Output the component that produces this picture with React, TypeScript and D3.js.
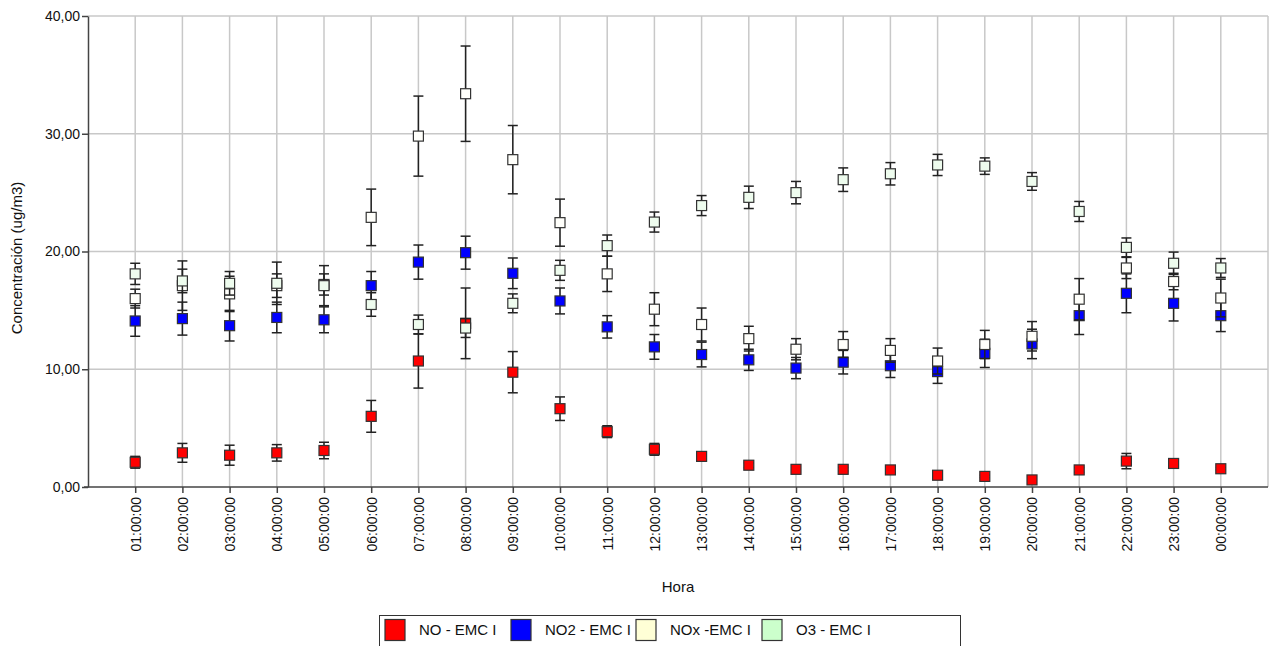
import React, { useEffect, useRef } from "react";
import * as d3 from "d3";

const hours = [
  "01:00:00", "02:00:00", "03:00:00", "04:00:00", "05:00:00", "06:00:00",
  "07:00:00", "08:00:00", "09:00:00", "10:00:00", "11:00:00", "12:00:00",
  "13:00:00", "14:00:00", "15:00:00", "16:00:00", "17:00:00", "18:00:00",
  "19:00:00", "20:00:00", "21:00:00", "22:00:00", "23:00:00", "00:00:00"
];

const noValues = [2.1, 2.9, 2.7, 2.9, 3.1, 6.0, 10.7, 13.9, 9.75, 6.65, 4.7, 3.2, 2.6, 1.85, 1.5, 1.5, 1.45, 1.0, 0.9, 0.6, 1.45, 2.2, 2.0, 1.55];
const noErr = [0.5, 0.8, 0.85, 0.7, 0.7, 1.35, 2.3, 3.0, 1.75, 1.0, 0.5, 0.5, 0.3, 0.2, 0.15, 0.15, 0.15, 0.1, 0.1, 0.1, 0.2, 0.65, 0.4, 0.1];

const no2Values = [14.1, 14.3, 13.7, 14.4, 14.2, 17.1, 19.1, 19.9, 18.15, 15.8, 13.6, 11.9, 11.25, 10.8, 10.1, 10.6, 10.3, 9.8, 11.35, 12.15, 14.55, 16.45, 15.6, 14.55];
const no2Err = [1.3, 1.4, 1.3, 1.3, 1.1, 1.2, 1.45, 1.4, 1.3, 1.1, 0.95, 1.05, 1.05, 0.9, 0.9, 1.0, 1.0, 1.0, 1.2, 1.25, 1.6, 1.65, 1.5, 1.35];

const noxValues = [16.0, 17.1, 16.4, 17.1, 17.2, 22.9, 29.8, 33.4, 27.8, 22.45, 18.1, 15.1, 13.8, 12.6, 11.7, 12.1, 11.6, 10.7, 12.1, 12.8, 15.95, 18.6, 17.45, 16.05];
const noxErr = [0.8, 2.1, 1.5, 1.0, 0.9, 2.4, 3.4, 4.05, 2.9, 2.0, 1.5, 1.4, 1.4, 1.05, 0.9, 1.1, 1.0, 1.1, 1.2, 1.25, 1.75, 0.9, 0.7, 1.6];

const o3Values = [18.1, 17.5, 17.3, 17.3, 17.1, 15.5, 13.8, 13.5, 15.6, 18.4, 20.5, 22.5, 23.9, 24.6, 25.0, 26.1, 26.6, 27.35, 27.25, 25.95, 23.4, 20.35, 19.0, 18.6];
const o3Err = [0.9, 1.0, 1.0, 1.8, 1.7, 1.0, 0.8, 0.8, 0.8, 0.85, 0.9, 0.85, 0.85, 0.95, 0.95, 1.0, 0.95, 0.9, 0.7, 0.75, 0.85, 0.8, 0.95, 0.8];

const yTicks = [0, 10, 20, 30, 40];

const series = [
  { name: "NO - EMC I", values: noValues, err: noErr, fill: "#ff0000", legend: "#ff0000" },
  { name: "NO2 - EMC I", values: no2Values, err: no2Err, fill: "#0000ff", legend: "#0000ff" },
  { name: "NOx -EMC I", values: noxValues, err: noxErr, fill: "#fffffb", legend: "#ffffd6" },
  { name: "O3 - EMC I", values: o3Values, err: o3Err, fill: "#eefcee", legend: "#ccffcc" }
];

const W = 1271;
const H = 646;
const FONT = "Arial, 'Liberation Sans', sans-serif";

const Chart: React.FC = () => {
  const svgRef = useRef<SVGSVGElement>(null);

  useEffect(() => {
    if (svgRef.current === null) return;
    const svg = d3.select(svgRef.current);
    svg.selectAll("*").remove();

    const left = 88;
    const right = 1268;
    const top = 16;
    const bottom = 487;

    const x = d3.scalePoint<string>().domain(hours).range([left, right]).padding(1);
    const y = d3.scaleLinear().domain([0, 40]).range([bottom, top]);

    // grid
    const grid = svg.append("g");
    grid
      .selectAll("line.h")
      .data(yTicks.filter(d => d > 0))
      .enter()
      .append("line")
      .attr("x1", left)
      .attr("x2", right)
      .attr("y1", d => y(d))
      .attr("y2", d => y(d))
      .attr("stroke", "#c8c8c8")
      .attr("stroke-width", 1.5);
    grid
      .selectAll("line.v")
      .data(hours)
      .enter()
      .append("line")
      .attr("x1", d => x(d) as number)
      .attr("x2", d => x(d) as number)
      .attr("y1", top)
      .attr("y2", bottom)
      .attr("stroke", "#c8c8c8")
      .attr("stroke-width", 1.5);
    grid
      .append("line")
      .attr("x1", right)
      .attr("x2", right)
      .attr("y1", top)
      .attr("y2", bottom)
      .attr("stroke", "#c8c8c8")
      .attr("stroke-width", 1.5);

    // axes
    const yAxis = d3
      .axisLeft(y)
      .tickValues(yTicks)
      .tickSize(6)
      .tickSizeOuter(0)
      .tickFormat(d => d3.format(".2f")(d as number).replace(".", ","));
    const yg = svg.append("g").attr("transform", `translate(${left},0)`).call(yAxis);
    yg.select(".domain").attr("stroke", "#444").attr("stroke-width", 1.5);
    yg.selectAll(".tick line").attr("stroke", "#444").attr("stroke-width", 1.5);
    yg.selectAll(".tick text")
      .attr("font-family", FONT)
      .attr("font-size", 14)
      .attr("fill", "#111")
      .attr("x", -8);

    const xAxis = d3.axisBottom(x).tickSize(6).tickSizeOuter(0);
    const xg = svg.append("g").attr("transform", `translate(0,${bottom})`).call(xAxis);
    xg.select(".domain")
      .attr("d", `M${left - 4},0H${right}`)
      .attr("stroke", "#444")
      .attr("stroke-width", 1.5);
    xg.selectAll(".tick line").attr("stroke", "#444").attr("stroke-width", 1.5);
    xg.selectAll(".tick text")
      .attr("font-family", FONT)
      .attr("font-size", 14)
      .attr("fill", "#111")
      .attr("transform", "rotate(-90)")
      .attr("text-anchor", "end")
      .attr("x", -10)
      .attr("y", 0)
      .attr("dy", "0.35em");

    // error bars and markers
    const cap = 5;
    const size = 10;
    series.forEach(s => {
      const g = svg.append("g");
      const rows = hours.map((h, i) => ({ h, v: s.values[i], e: s.err[i] }));
      const bars = g.selectAll("g.eb").data(rows).enter().append("g");
      bars
        .append("line")
        .attr("x1", d => x(d.h) as number)
        .attr("x2", d => x(d.h) as number)
        .attr("y1", d => y(d.v + d.e))
        .attr("y2", d => y(d.v - d.e));
      bars
        .append("line")
        .attr("x1", d => (x(d.h) as number) - cap)
        .attr("x2", d => (x(d.h) as number) + cap)
        .attr("y1", d => y(d.v + d.e))
        .attr("y2", d => y(d.v + d.e));
      bars
        .append("line")
        .attr("x1", d => (x(d.h) as number) - cap)
        .attr("x2", d => (x(d.h) as number) + cap)
        .attr("y1", d => y(d.v - d.e))
        .attr("y2", d => y(d.v - d.e));
      bars.selectAll("line").attr("stroke", "#222").attr("stroke-width", 1.5);

      g.selectAll("rect")
        .data(rows)
        .enter()
        .append("rect")
        .attr("x", d => (x(d.h) as number) - size / 2)
        .attr("y", d => y(d.v) - size / 2)
        .attr("width", size)
        .attr("height", size)
        .attr("fill", s.fill)
        .attr("stroke", "#333")
        .attr("stroke-width", 1.2);
    });

    // axis titles
    svg
      .append("text")
      .attr("transform", `translate(22,258) rotate(-90)`)
      .attr("text-anchor", "middle")
      .attr("font-family", FONT)
      .attr("font-size", 15)
      .attr("fill", "#111")
      .text("Concentración (ug/m3)");
    svg
      .append("text")
      .attr("x", 678)
      .attr("y", 592)
      .attr("text-anchor", "middle")
      .attr("font-family", FONT)
      .attr("font-size", 15)
      .attr("fill", "#111")
      .text("Hora");

    // legend
    const lg = svg.append("g");
    lg.append("rect")
      .attr("x", 379.5)
      .attr("y", 615.5)
      .attr("width", 581)
      .attr("height", 40)
      .attr("fill", "#fff")
      .attr("stroke", "#333")
      .attr("stroke-width", 1);
    const legendX = [385, 511, 636, 762];
    series.forEach((s, i) => {
      lg.append("rect")
        .attr("x", legendX[i])
        .attr("y", 619.5)
        .attr("width", 20)
        .attr("height", 21)
        .attr("fill", s.legend)
        .attr("stroke", "#333")
        .attr("stroke-width", 1.2);
      lg.append("text")
        .attr("x", legendX[i] + 34)
        .attr("y", 635)
        .attr("font-family", FONT)
        .attr("font-size", 15)
        .attr("fill", "#111")
        .text(s.name);
    });
  }, []);

  return <svg ref={svgRef} width={W} height={H} style={{ display: "block" }} />;
};

const App: React.FC = () => (
  <div style={{ position: "fixed", left: 0, top: 0, width: W, height: H, background: "#fff" }}>
    <Chart />
  </div>
);

export default App;
